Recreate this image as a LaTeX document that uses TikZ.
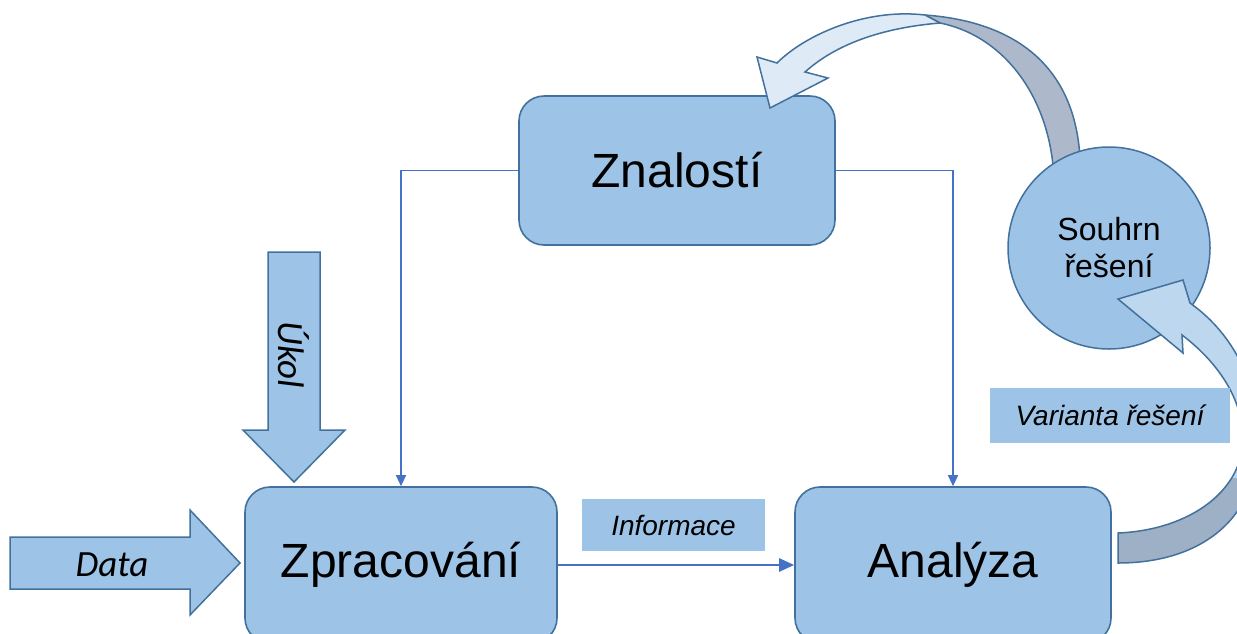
\documentclass[tikz,border=0pt]{standalone}
\usepackage{fontspec}
\setmainfont{Liberation Sans}
\newfontfamily\calibri{Carlito}
\usetikzlibrary{arrows.meta}
\definecolor{boxfill}{HTML}{9DC3E6}
\definecolor{boxline}{HTML}{41719C}
\definecolor{linkblue}{HTML}{4472C4}
\definecolor{palefill}{HTML}{DEEBF7}
\definecolor{lightfill}{HTML}{BDD7EE}
\definecolor{backgray}{HTML}{ADB9CA}
\definecolor{backgray2}{HTML}{9DB0C6}
\tikzset{
  box/.style={draw=boxline, fill=boxfill, line width=1.6pt, rounded corners=25pt, font=\fontsize{48}{56}\selectfont},
  tag/.style={fill=boxfill, inner sep=0pt, font=\fontsize{28}{34}\selectfont\itshape},
  fat/.style={draw=boxline, fill=boxfill, line width=1.5pt, line join=miter},
  fattext/.style={font=\calibri\itshape\fontsize{37}{44}\selectfont},
  link/.style={draw=linkblue, line width=1.2pt, -{Triangle[length=11pt,width=10pt]}},
}
\begin{document}
\begin{tikzpicture}[x=1pt, y=-1pt]
\useasboundingbox (0,0) rectangle (1237,633);
\clip (0,0) rectangle (1237,633);
% main blocks
\node[box, minimum width=316, minimum height=149] (znal) at (677,170.5) {Znalostí};
\node[box, minimum width=312, minimum height=156] (zprac) at (401,565) {Zpracování};
\node[box, minimum width=316, minimum height=156] (anal) at (953,565) {Analýza};
\draw[link] (znal.west) -| (zprac.north);
\draw[link] (znal.east) -| (anal.north);
\draw[link, line width=2.6pt, -{Triangle[length=15pt,width=13pt]}] (zprac.east) -- (anal.west);
\node[tag, minimum width=183, minimum height=52] (info) at (673.5,525) {Informace};
% inputs
\filldraw[fat] (10,537) -- (190,537) -- (190,510) -- (240,563) -- (190,615) -- (190,589) -- (10,589) -- cycle;
\node[fattext] (data) at (112,565) {Data};
\filldraw[fat] (268,252) -- (320,252) -- (320,430) -- (345,430) -- (294,482) -- (243,430) -- (268,430) -- cycle;
\node[fattext, rotate=-90] (ukol) at (294,355) {Úkol};
% back to the knowledge
\filldraw[fat, fill=backgray] (1080,158) .. controls (1075,70) and (1020,22) .. (925,15) -- (940,23) .. controls (1000,35) and (1045,90) .. (1053,165) -- cycle;
\filldraw[fat, fill=palefill] (925,15) .. controls (865,8) and (805,35) .. (777,63) -- (757,57) -- (770,108) -- (828,78) -- (805,72) .. controls (835,45) and (880,28) .. (940,23) -- cycle;
\node[circle, draw=boxline, fill=boxfill, line width=1.5pt, minimum size=202, align=center, font=\fontsize{32}{37}\selectfont] (souhrn) at (1109,248) {Souhrn\\řešení};
% from the analysis to the summary
\def\lowband{(1118,533) .. controls (1190,530) and (1245,490) .. (1243,435) .. controls (1241,395) and (1215,360) .. (1182,335) -- (1183,353) -- (1118,299) -- (1183,280) -- (1190,303) .. controls (1235,335) and (1258,385) .. (1258,440) .. controls (1258,520) and (1200,563) .. (1118,563) -- cycle}
\fill[lightfill] \lowband;
\begin{scope}
  \clip (1100,478) rectangle (1237,633);
  \fill[backgray2] \lowband;
\end{scope}
\draw[boxline, line width=1.5pt, line join=miter] \lowband;
\node[tag, minimum width=240, minimum height=55] (varianta) at (1110,415.5) {Varianta řešení};
\end{tikzpicture}
\end{document}
